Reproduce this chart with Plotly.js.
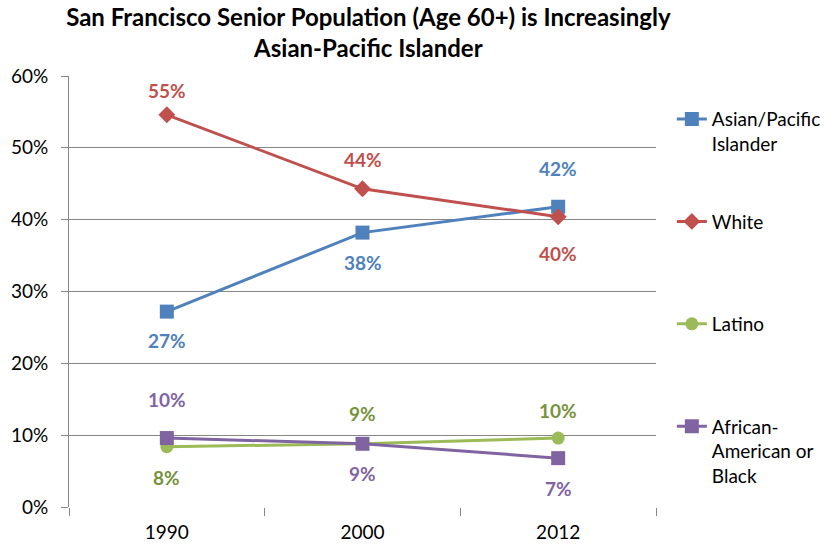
<!DOCTYPE html>
<html>
<head>
<meta charset="utf-8">
<script src="https://cdn.plot.ly/plotly-3.0.1.min.js"></script>
<style>html,body{margin:0;padding:0;background:#fff;} #chart{width:840px;height:547px;}</style>
</head>
<body>
<div id="chart"></div>
<script>
const years = ['1990', '2000', '2012'];
const seriesNames = ['Asian/Pacific<br>Islander', 'White<br>&#160;', 'Latino<br>&#160;', 'African-<br>American or<br>Black'];
const asian = [0.272, 0.382, 0.418];
const white = [0.546, 0.443, 0.404];
const latino = [0.084, 0.088, 0.096];
const african = [0.096, 0.088, 0.068];
const yTicks = [0, 0.1, 0.2, 0.3, 0.4, 0.5, 0.6];

const colors = ['#4F81BD', '#C0504D', '#9BBB59', '#8064A2'];
const labelColors = ['#4F81BD', '#C0504D', '#77933C', '#8064A2'];
const symbols = ['square', 'diamond', 'circle', 'square'];
const msizes = [14, 13, 13, 14];
const allSeries = [asian, white, latino, african];
// label shift (px) for each point: + above, - below
const shifts = [
  [-29, -30, 38],
  [24, 29, -37],
  [-31, 30, 28],
  [39, -30, -30]
];
const FONT = 'Lato, "Open Sans", sans-serif';

const traces = allSeries.map((vals, i) => ({
  type: 'scatter', mode: 'lines+markers',
  x: years, y: vals, name: seriesNames[i],
  legendgroup: 'g' + i,
  line: {color: colors[i], width: 3},
  marker: {color: colors[i], symbol: symbols[i], size: msizes[i]},
  hoverinfo: 'skip'
}));

const annotations = [];
allSeries.forEach((vals, i) => {
  vals.forEach((v, j) => {
    annotations.push({
      x: j, y: v, xref: 'x', yref: 'y',
      text: Math.round(v * 100) + '%',
      showarrow: false, yshift: shifts[i][j],
      font: {family: FONT, size: 19, color: labelColors[i], weight: 'bold'}
    });
  });
});

const layout = {
  width: 840, height: 547,
  margin: {l: 69, r: 184, t: 76, b: 40},
  paper_bgcolor: '#fff', plot_bgcolor: '#fff',
  font: {family: FONT, size: 19, color: '#000'},
  title: {
    text: 'San Francisco Senior Population (Age 60+) is Increasingly<br>Asian-Pacific Islander',
    x: 0.51, xref: 'paper', xanchor: 'center',
    y: 0.952, yref: 'container', yanchor: 'top',
    font: {family: FONT, size: 24, weight: 'bold', color: '#000'}
  },
  xaxis: {
    type: 'category', range: [-0.5, 2.5],
    showgrid: false, zeroline: false,
    showline: false,
    ticks: 'outside', tickson: 'boundaries', ticklen: 8, tickcolor: '#868686', tickwidth: 1,
    ticklabelstandoff: 12,
    tickfont: {family: FONT, size: 19, color: '#000'},
    fixedrange: true
  },
  yaxis: {
    range: [0, 0.6], tickvals: yTicks, tickformat: '.0%',
    showgrid: true, gridcolor: '#868686', gridwidth: 1,
    zeroline: false,
    showline: true, linecolor: '#868686', linewidth: 1,
    ticks: 'outside', ticklen: 7, tickcolor: '#868686',
    ticklabelstandoff: 9,
    tickfont: {family: FONT, size: 19, color: '#000'},
    fixedrange: true
  },
  showlegend: true,
  legend: {
    x: 1.027, xanchor: 'left', y: 0.944, yanchor: 'top',
    valign: 'top', tracegroupgap: 50, traceorder: 'grouped',
    font: {family: FONT, size: 19, color: '#000'},
    itemwidth: 30
  },
  annotations: annotations
};

Plotly.newPlot('chart', traces, layout, {displayModeBar: false, staticPlot: true});
</script>
</body>
</html>
